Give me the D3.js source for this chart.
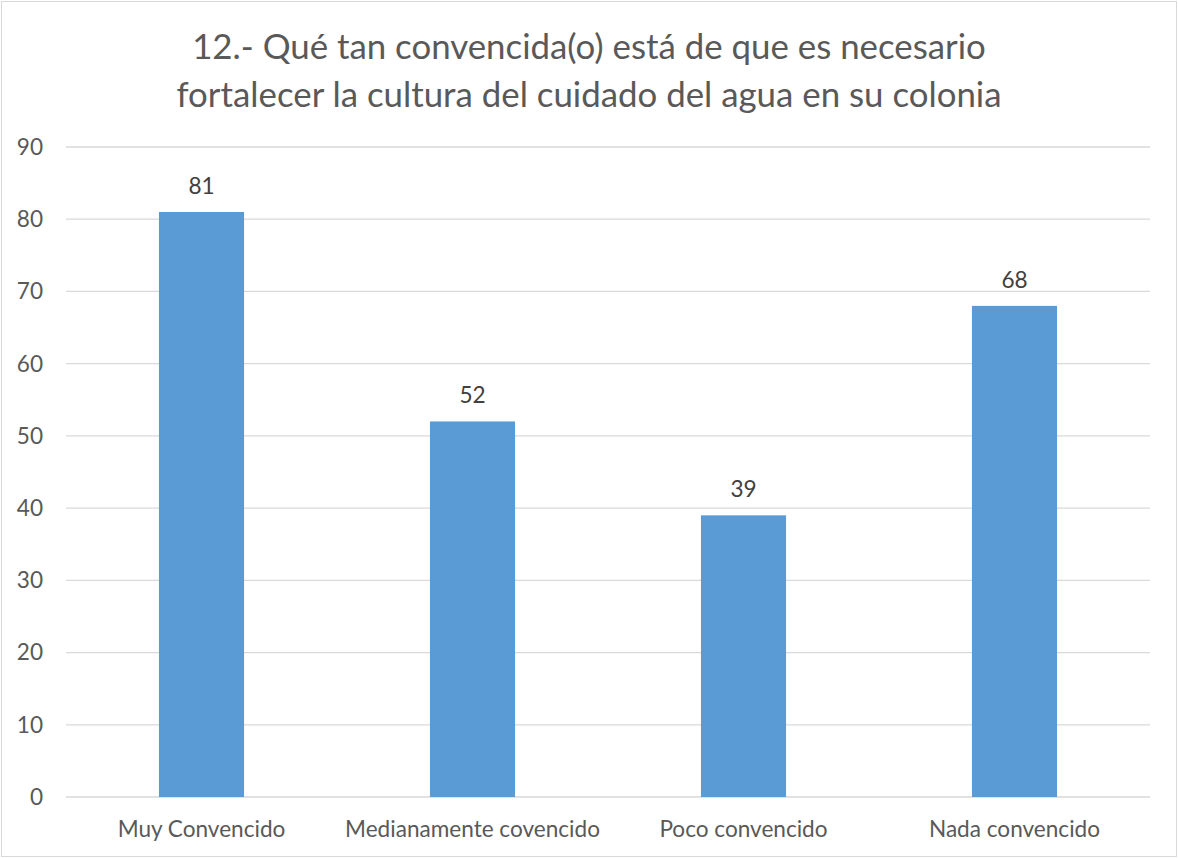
<!DOCTYPE html>
<html><head><meta charset="utf-8">
<script src="https://cdn.jsdelivr.net/npm/d3@7"></script>
<style>body{margin:0;background:#fff}svg{display:block}</style>
</head><body>
<svg id="c" width="1178" height="858"></svg>
<script>
const categories = ["Muy Convencido","Medianamente covencido","Poco convencido","Nada convencido"];
const values = [81,52,39,68];
const yTicks = [0,10,20,30,40,50,60,70,80,90];
const titleLines = ["12.- Qué tan convencida(o) está de que es necesario","fortalecer la cultura del cuidado del agua en su colonia"];

const W=1178,H=858;
const m={l:66,r:28,t:147,b:61};
const svg=d3.select("#c");
const font="Lato, 'Open Sans', sans-serif";
svg.append("rect").attr("x",1.5).attr("y",1.5).attr("width",W-3).attr("height",H-3)
  .attr("fill","#fff").attr("stroke","#d9d9d9").attr("stroke-width",1);

// fit font sizes to the reference text widths
function fitSize(str, target){
  const t=svg.append("text").attr("font-family",font).attr("font-size",100).text(str);
  const w=t.node().getComputedTextLength(); t.remove();
  return 100*target/w;
}
const labelSize=fitSize("Medianamente covencido",255);
const titleSize=fitSize(titleLines[0],794);

const x=d3.scaleBand().domain(categories).range([m.l,W-m.r]).padding(0);
const y=d3.scaleLinear().domain([0,90]).range([H-m.b,m.t]);

svg.append("g").selectAll("line").data(yTicks).join("line")
  .attr("x1",m.l).attr("x2",W-m.r).attr("y1",d=>y(d)).attr("y2",d=>y(d))
  .attr("stroke","#d9d9d9").attr("stroke-width",1.3);

svg.append("g").selectAll("text").data(yTicks).join("text")
  .attr("x",43).attr("y",d=>y(d)).attr("dy","0.35em").attr("text-anchor","end")
  .attr("font-family",font).attr("font-size",labelSize).attr("fill","#595959").text(d=>d);

const bw=x.bandwidth()*0.314;
svg.append("g").selectAll("rect").data(values).join("rect")
  .attr("x",(d,i)=>x(categories[i])+x.bandwidth()/2-bw/2)
  .attr("width",bw).attr("y",d=>y(d)).attr("height",d=>y(0)-y(d))
  .attr("fill","#5b9bd5");

svg.append("g").selectAll("text").data(values).join("text")
  .attr("x",(d,i)=>x(categories[i])+x.bandwidth()/2).attr("y",d=>y(d)-18)
  .attr("text-anchor","middle").attr("font-family",font).attr("font-size",labelSize)
  .attr("fill","#404040").text(d=>d);

svg.append("g").selectAll("text").data(categories).join("text")
  .attr("x",d=>x(d)+x.bandwidth()/2).attr("y",837)
  .attr("text-anchor","middle").attr("font-family",font).attr("font-size",labelSize)
  .attr("fill","#595959").text(d=>d);

svg.append("g").selectAll("text").data(titleLines).join("text")
  .attr("x",589).attr("y",(d,i)=>59+i*48).attr("text-anchor","middle")
  .attr("font-family",font).attr("font-size",titleSize).attr("fill","#595959").text(d=>d);
</script>
</body></html>
